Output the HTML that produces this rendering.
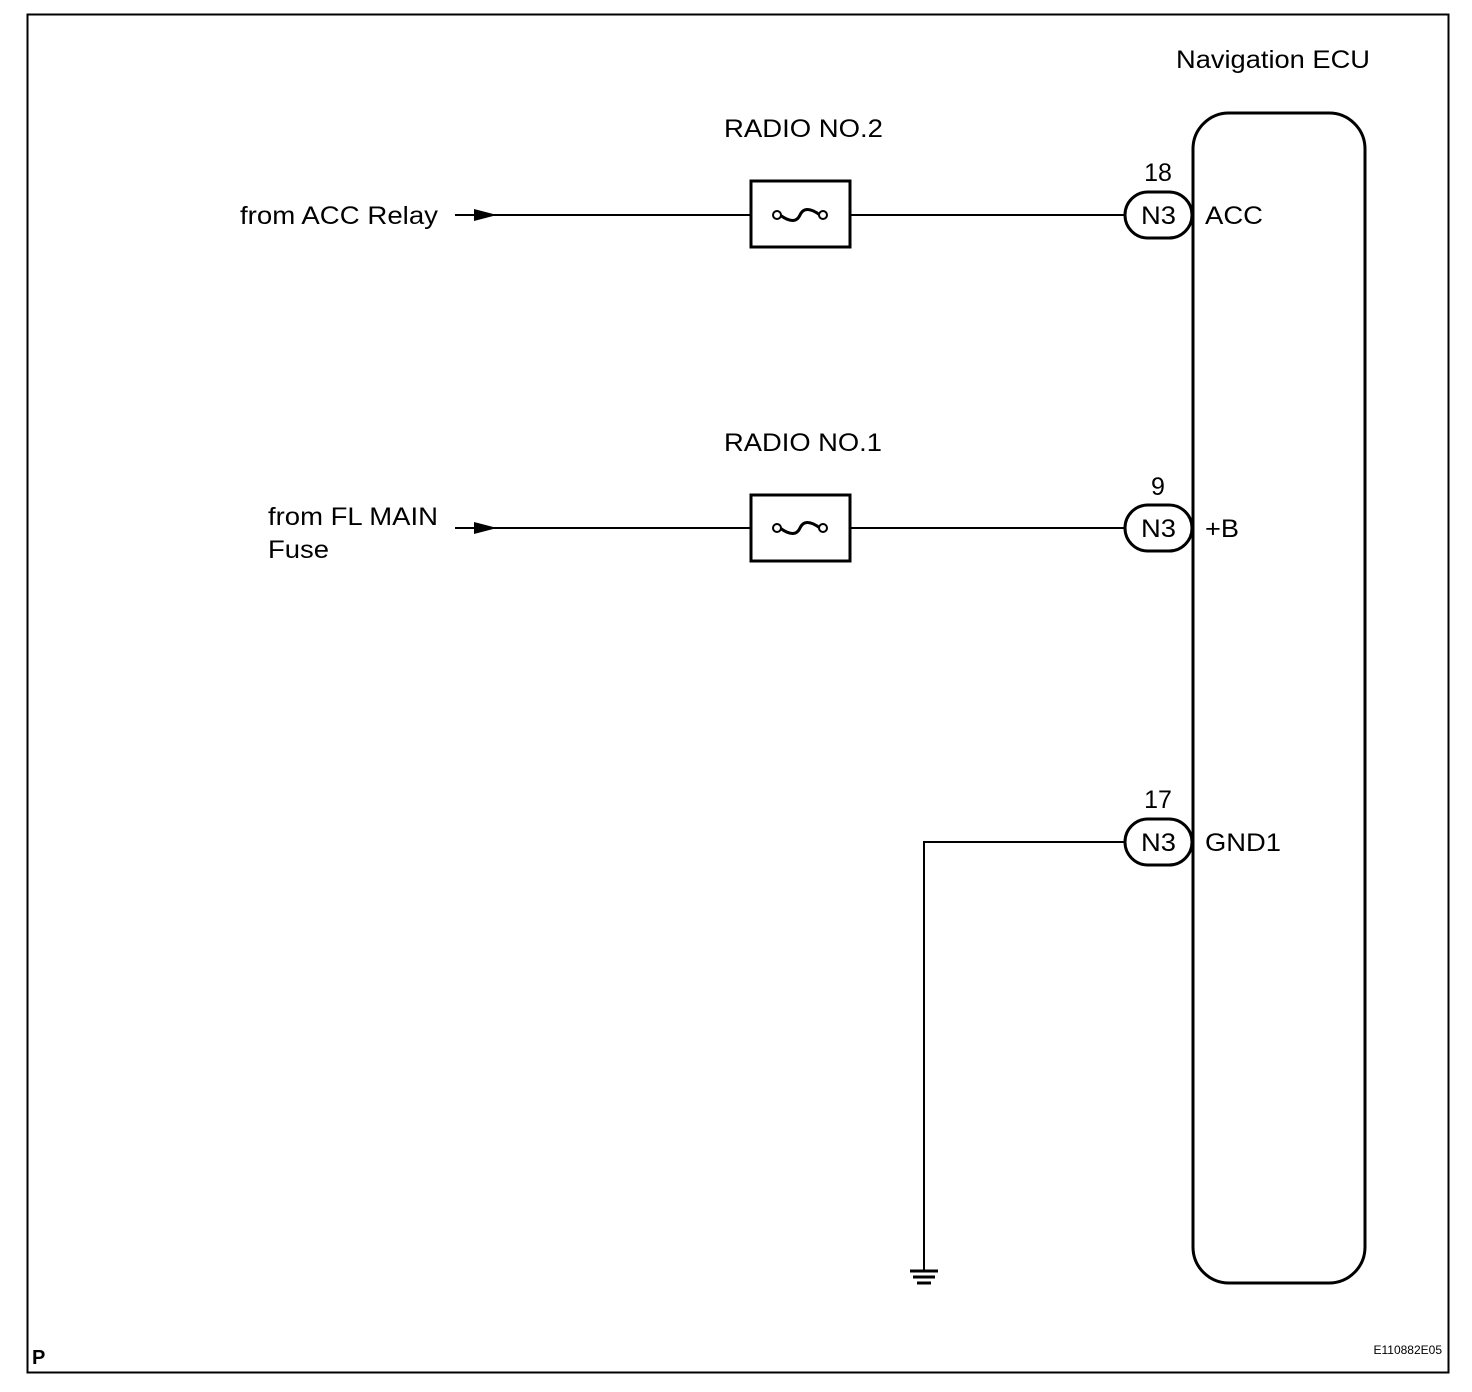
<!DOCTYPE html>
<html><head><style>body{margin:0;background:#fff}svg{display:block}text{font-family:"Liberation Sans",Arial,sans-serif;fill:#000}</style></head><body>
<svg width="1472" height="1392" viewBox="0 0 1472 1392" xmlns="http://www.w3.org/2000/svg">
<rect x="27.5" y="14.5" width="1421" height="1358" fill="none" stroke="#000" stroke-width="2"/>
<text x="1176" y="68" font-size="25" textLength="194" lengthAdjust="spacingAndGlyphs">Navigation ECU</text>
<rect x="1193" y="113" width="172" height="1170" rx="36" fill="none" stroke="#000" stroke-width="3"/>
<g stroke="#000" stroke-width="2" fill="none">
<line x1="455" y1="215" x2="1124" y2="215"/>
<line x1="455" y1="528" x2="1124" y2="528"/>
<polyline points="1124,842 924,842 924,1270"/>
</g>
<polygon points="474,209 497,215 474,221" fill="#000"/>
<polygon points="474,522 497,528 474,534" fill="#000"/>
<g stroke="#000" stroke-width="3">
<line x1="910" y1="1271" x2="938" y2="1271"/>
<line x1="913" y1="1277" x2="935" y2="1277"/>
<line x1="917" y1="1283" x2="931" y2="1283"/>
</g>
<g fill="#fff" stroke="#000" stroke-width="3">
<rect x="751" y="181" width="99" height="66"/>
<rect x="751" y="495" width="99" height="66"/>
</g>
<g fill="none" stroke="#000" stroke-width="3">
<path d="M780,215 Q795,226 800,215 Q805,204 820,215"/>
<path d="M780,528 Q795,539 800,528 Q805,517 820,528"/>
</g>
<g fill="#fff" stroke="#000" stroke-width="2">
<circle cx="777" cy="215" r="4"/><circle cx="823" cy="215" r="4"/>
<circle cx="777" cy="528" r="4"/><circle cx="823" cy="528" r="4"/>
</g>
<g fill="#fff" stroke="#000" stroke-width="3">
<rect x="1125" y="192" width="67" height="46" rx="23"/>
<rect x="1125" y="505" width="67" height="46" rx="23"/>
<rect x="1125" y="819" width="67" height="46" rx="23"/>
</g>
<g font-size="25">
<text x="1141" y="224" textLength="35" lengthAdjust="spacingAndGlyphs">N3</text>
<text x="1141" y="537" textLength="35" lengthAdjust="spacingAndGlyphs">N3</text>
<text x="1141" y="851" textLength="35" lengthAdjust="spacingAndGlyphs">N3</text>
<text x="1158" y="181" text-anchor="middle">18</text>
<text x="1158" y="495" text-anchor="middle">9</text>
<text x="1158" y="808" text-anchor="middle">17</text>
<text x="1205" y="224" textLength="58" lengthAdjust="spacingAndGlyphs">ACC</text>
<text x="1205" y="537" textLength="34" lengthAdjust="spacingAndGlyphs">+B</text>
<text x="1205" y="851" textLength="76" lengthAdjust="spacingAndGlyphs">GND1</text>
<text x="724" y="137" textLength="159" lengthAdjust="spacingAndGlyphs">RADIO NO.2</text>
<text x="724" y="451" textLength="158" lengthAdjust="spacingAndGlyphs">RADIO NO.1</text>
<text x="240" y="224" textLength="198" lengthAdjust="spacingAndGlyphs">from ACC Relay</text>
<text x="268" y="525" textLength="170" lengthAdjust="spacingAndGlyphs">from FL MAIN</text>
<text x="268" y="558" textLength="61" lengthAdjust="spacingAndGlyphs">Fuse</text>
<text x="32" y="1364" font-size="20" font-weight="bold">P</text>
<text x="1442" y="1354" font-size="12" text-anchor="end">E110882E05</text>
</g>
</svg>
</body></html>
